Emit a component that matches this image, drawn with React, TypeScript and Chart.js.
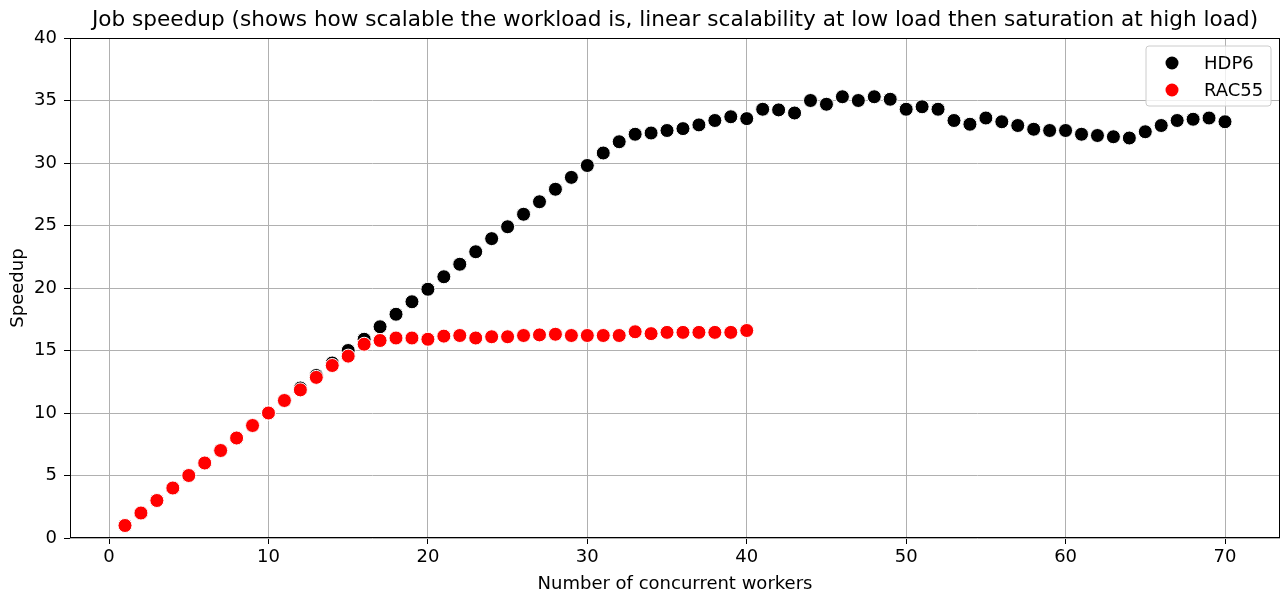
import React, { useEffect, useRef } from "react";
import { Chart, registerables } from "chart.js";
Chart.register(...registerables);

const workers = [
  1, 2, 3, 4, 5, 6, 7, 8, 9, 10, 11, 12, 13, 14, 15, 16, 17, 18, 19, 20,
  21, 22, 23, 24, 25, 26, 27, 28, 29, 30, 31, 32, 33, 34, 35, 36, 37, 38, 39, 40,
  41, 42, 43, 44, 45, 46, 47, 48, 49, 50, 51, 52, 53, 54, 55, 56, 57, 58, 59, 60,
  61, 62, 63, 64, 65, 66, 67, 68, 69, 70,
];
const hdp6 = [
  1, 2, 3, 4, 5, 6, 7, 8, 9, 10, 11, 12, 13, 14, 15.0, 15.9, 16.9, 17.9, 18.9, 19.9,
  20.9, 21.9, 22.9, 23.95, 24.9, 25.9, 26.9, 27.9, 28.85, 29.8, 30.8, 31.7, 32.3, 32.4, 32.6, 32.75, 33.05, 33.4, 33.7, 33.55,
  34.3, 34.25, 34.0, 35.0, 34.7, 35.3, 35.0, 35.3, 35.1, 34.3, 34.5, 34.3, 33.4, 33.1, 33.6, 33.3, 33.0, 32.7, 32.6, 32.6,
  32.3, 32.2, 32.1, 32.0, 32.5, 33.0, 33.4, 33.5, 33.6, 33.3,
];
const rac55 = [
  1, 2, 3, 4, 5, 6, 7, 8, 9, 10, 11, 11.85, 12.85, 13.8, 14.55, 15.5, 15.8, 16.0, 16.0, 15.9,
  16.15, 16.2, 16.0, 16.1, 16.1, 16.2, 16.25, 16.3, 16.2, 16.2, 16.2, 16.2, 16.5, 16.35, 16.45, 16.45, 16.45, 16.45, 16.45, 16.6,
];
const seriesNames = ["HDP6", "RAC55"];
const seriesColors = ["#000000", "#ff0000"];
const xTicks = [0, 10, 20, 30, 40, 50, 60, 70];
const yTicks = [0, 5, 10, 15, 20, 25, 30, 35, 40];
const titleText =
  "Job speedup (shows how scalable the workload is, linear scalability at low load then saturation at high load)";
const xTitle = "Number of concurrent workers";
const yTitle = "Speedup";

const FONT = "'DejaVu Sans', sans-serif";

export default function App() {
  const ref = useRef<HTMLCanvasElement>(null);
  useEffect(() => {
    const canvas = ref.current!;
    const overlay = {
      id: "overlay",
      afterDraw(chart: any) {
        const c = chart.ctx;
        const a = chart.chartArea;
        c.save();
        // frame
        c.strokeStyle = "#000";
        c.lineWidth = 1;
        c.strokeRect(Math.round(a.left) + 0.5, Math.round(a.top) + 0.5, Math.round(a.right - a.left) - 1, Math.round(a.bottom - a.top) - 1);
        // title
        c.fillStyle = "#000";
        c.font = `21.6px ${FONT}`;
        c.textAlign = "center";
        c.textBaseline = "alphabetic";
        c.fillText(titleText, (a.left + a.right) / 2, 26);
        // axis titles
        c.font = `18px ${FONT}`;
        c.textBaseline = "middle";
        c.fillText(xTitle, (a.left + a.right) / 2, 584);
        c.save();
        c.translate(18, (a.top + a.bottom) / 2);
        c.rotate(-Math.PI / 2);
        c.fillText(yTitle, 0, 0);
        c.restore();
        // legend
        const bx = 1146, by = 46, bw = 125, bh = 60, r = 3;
        c.beginPath();
        c.moveTo(bx + r, by);
        c.lineTo(bx + bw - r, by);
        c.arcTo(bx + bw, by, bx + bw, by + r, r);
        c.lineTo(bx + bw, by + bh - r);
        c.arcTo(bx + bw, by + bh, bx + bw - r, by + bh, r);
        c.lineTo(bx + r, by + bh);
        c.arcTo(bx, by + bh, bx, by + bh - r, r);
        c.lineTo(bx, by + r);
        c.arcTo(bx, by, bx + r, by, r);
        c.closePath();
        c.fillStyle = "rgba(255,255,255,0.8)";
        c.fill();
        c.strokeStyle = "#cccccc";
        c.stroke();
        seriesNames.forEach((name, i) => {
          const y = 63 + i * 27;
          c.beginPath();
          c.arc(1172, y, 6.5, 0, Math.PI * 2);
          c.fillStyle = seriesColors[i];
          c.fill();
          c.fillStyle = "#000";
          c.font = `18px ${FONT}`;
          c.textAlign = "left";
          c.textBaseline = "middle";
          c.fillText(name, 1204, y + 1);
        });
        c.restore();
      },
    };
    const chart = new Chart(canvas, {
      type: "scatter",
      data: {
        datasets: [
          {
            label: seriesNames[0],
            data: workers.map((w, i) => ({ x: w, y: hdp6[i] })),
            backgroundColor: seriesColors[0],
            borderColor: "#ffffff",
            borderWidth: 1,
            pointRadius: 7,
            order: 2,
          },
          {
            label: seriesNames[1],
            data: rac55.map((v, i) => ({ x: workers[i], y: v })),
            backgroundColor: seriesColors[1],
            borderColor: "#ffffff",
            borderWidth: 1,
            pointRadius: 7,
            order: 1,
          },
        ],
      },
      options: {
        responsive: false,
        animation: false,
        events: [],
        layout: { autoPadding: false, padding: { left: 0, right: 4, top: 38, bottom: 0 } },
        plugins: { legend: { display: false }, tooltip: { enabled: false }, title: { display: false } },
        scales: {
          x: {
            type: "linear",
            min: -2.45,
            max: 73.45,
            afterFit: (s: any) => { s.height = 57; },
            afterBuildTicks: (s: any) => { s.ticks = xTicks.map((v) => ({ value: v })); },
            grid: { color: "#b0b0b0", lineWidth: 1, tickColor: "#000", tickLength: 6 },
            border: { display: false },
            ticks: { color: "#000", font: { family: FONT, size: 18 }, padding: 3, maxRotation: 0, autoSkip: false },
          },
          y: {
            type: "linear",
            min: 0,
            max: 40,
            afterFit: (s: any) => { s.width = 70; },
            afterBuildTicks: (s: any) => { s.ticks = yTicks.map((v) => ({ value: v })); },
            grid: { color: "#b0b0b0", lineWidth: 1, tickColor: "#000", tickLength: 6 },
            border: { display: false },
            ticks: { color: "#000", font: { family: FONT, size: 18 }, padding: 7, autoSkip: false },
          },
        },
      },
      plugins: [overlay],
    });
    return () => chart.destroy();
  }, []);
  return (
    <div style={{ position: "absolute", left: 0, top: 0, width: 1284, height: 595, background: "#fff" }}>
      <canvas ref={ref} width={1284} height={595} style={{ width: 1284, height: 595, display: "block" }} />
    </div>
  );
}
